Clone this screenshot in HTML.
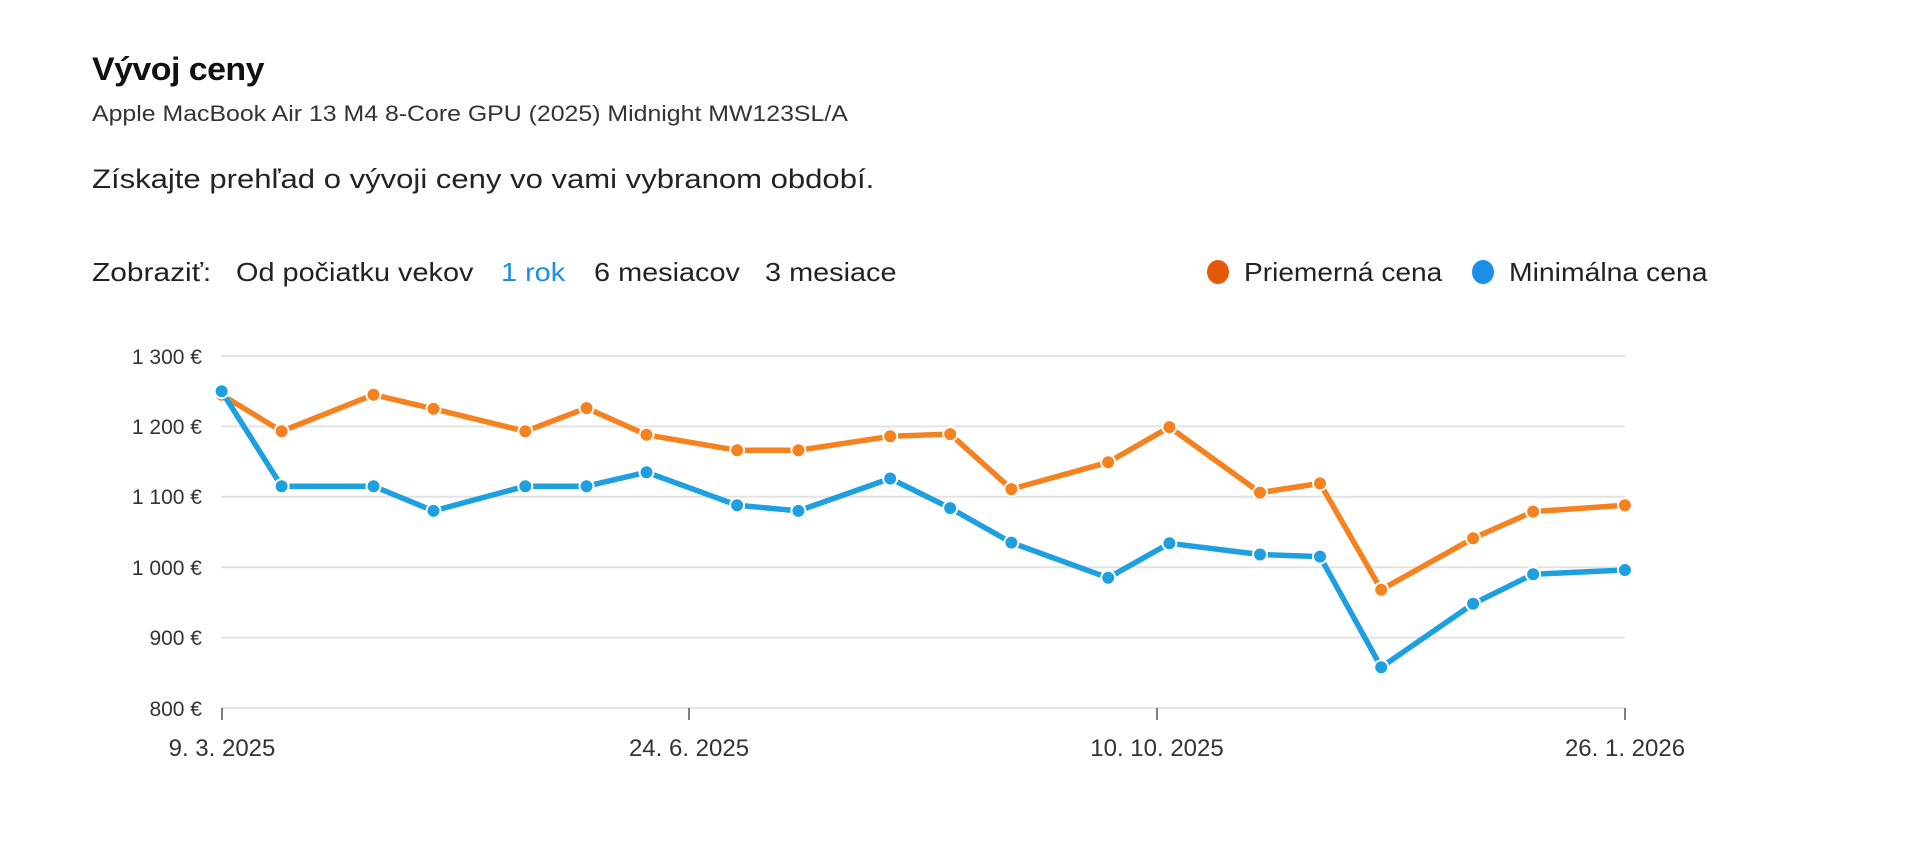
<!DOCTYPE html>
<html><head><meta charset="utf-8"><style>
body{margin:0;width:1920px;height:867px;background:#fff;font-family:"Liberation Sans",sans-serif;overflow:hidden;position:relative}
.t{position:absolute;white-space:nowrap;color:#111;transform-origin:0 0;line-height:1.15}
</style></head><body>
<div class="t" style="left:92px;top:51px;font-size:32px;font-weight:bold;letter-spacing:-0.5px;transform:scaleX(1.06)">Vývoj ceny</div>
<div class="t" style="left:92px;top:101px;font-size:22px;color:#333;transform:scaleX(1.13)">Apple MacBook Air 13 M4 8-Core GPU (2025) Midnight MW123SL/A</div>
<div class="t" style="left:92px;top:164px;font-size:27px;color:#222;transform:scaleX(1.15)">Získajte prehľad o vývoji ceny vo vami vybranom období.</div>
<div class="t" style="left:92px;top:258px;font-size:26px;color:#222;transform:scaleX(1.15)">Zobraziť:</div>
<div class="t" style="left:236px;top:258px;font-size:26px;color:#222;transform:scaleX(1.11)">Od počiatku vekov</div>
<div class="t" style="left:501px;top:258px;font-size:26px;color:#1a8fe8;transform:scaleX(1.11)">1 rok</div>
<div class="t" style="left:594px;top:258px;font-size:26px;color:#222;transform:scaleX(1.11)">6 mesiacov</div>
<div class="t" style="left:765px;top:258px;font-size:26px;color:#222;transform:scaleX(1.11)">3 mesiace</div>
<div style="position:absolute;left:1207px;top:260px;width:22px;height:24px;border-radius:50%;background:#e55a0a"></div>
<div class="t" style="left:1244px;top:258px;font-size:26px;color:#222;transform:scaleX(1.08)">Priemerná cena</div>
<div style="position:absolute;left:1472px;top:260px;width:22px;height:24px;border-radius:50%;background:#1a8fe8"></div>
<div class="t" style="left:1509px;top:258px;font-size:26px;color:#222;transform:scaleX(1.09)">Minimálna cena</div>
<svg width="1920" height="867" style="position:absolute;left:0;top:0" font-family="Liberation Sans, sans-serif">
<g stroke="#e3e3e3" stroke-width="2">
<line x1="221" x2="1625" y1="356" y2="356"/><line x1="221" x2="1625" y1="426.4" y2="426.4"/>
<line x1="221" x2="1625" y1="496.8" y2="496.8"/><line x1="221" x2="1625" y1="567.2" y2="567.2"/>
<line x1="221" x2="1625" y1="637.6" y2="637.6"/><line x1="221" x2="1625" y1="708" y2="708"/>
</g>
<g stroke="#555" stroke-width="1.5">
<line x1="222" x2="222" y1="708" y2="720"/><line x1="689" x2="689" y1="708" y2="720"/>
<line x1="1157" x2="1157" y1="708" y2="720"/><line x1="1625" x2="1625" y1="708" y2="720"/>
</g>
<g font-size="21" fill="#333" text-anchor="end">
<text x="202" y="364">1 300 €</text><text x="202" y="434">1 200 €</text><text x="202" y="504">1 100 €</text>
<text x="202" y="575">1 000 €</text><text x="202" y="645">900 €</text><text x="202" y="716">800 €</text>
</g>
<g font-size="24" fill="#333" text-anchor="middle">
<text x="222" y="756">9. 3. 2025</text><text x="689" y="756">24. 6. 2025</text>
<text x="1157" y="756">10. 10. 2025</text><text x="1625" y="756">26. 1. 2026</text>
</g>
<g id="plot"></g>
</svg>
<script>
var xs=[181,230,305,354,429,479,528,602,652,727,776,826,905,955,1029,1078,1128,1203,1252,1327].map(function(v){return v*1.2245;});
var o=[1245,1193,1245,1225,1193,1226,1188,1166,1166,1186,1189,1111,1149,1199,1106,1119,968,1041,1079,1088];
var b=[1250,1115,1115,1080,1115,1115,1135,1088,1080,1126,1084,1035,985,1034,1018,1015,858,948,990,996];
function y(v){return 708-(v-800)*0.704;}
var g=document.getElementById('plot'),s='';
function ser(d,c){var p=d.map(function(v,i){return xs[i].toFixed(1)+','+y(v).toFixed(1)}).join(' ');
s+='<polyline points="'+p+'" fill="none" stroke="'+c+'" stroke-width="5.5" stroke-linejoin="round"/>';
d.forEach(function(v,i){s+='<circle cx="'+xs[i].toFixed(1)+'" cy="'+y(v).toFixed(1)+'" r="7" fill="'+c+'" stroke="#fff" stroke-width="2"/>';});}
ser(o,'#f5821f');ser(b,'#1ea0e0');
g.innerHTML=s;
</script>
</body></html>
